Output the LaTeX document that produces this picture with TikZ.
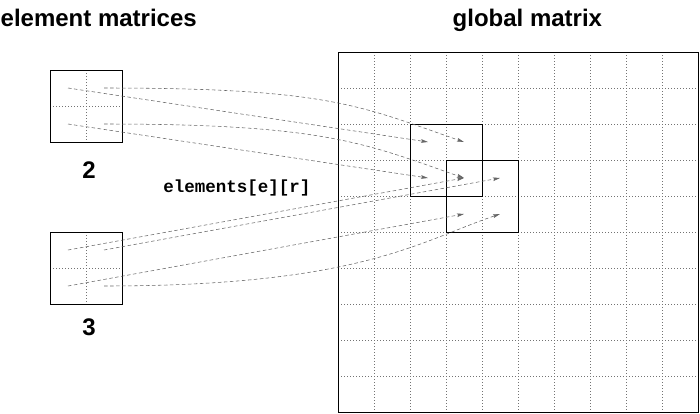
\documentclass[tikz,border=0pt]{standalone}
\usepackage{fontspec}
\setmainfont{Liberation Sans}
\setmonofont{Liberation Mono}
\usetikzlibrary{arrows.meta}
\tikzset{
  title/.style={font=\fontsize{24}{24}\selectfont\bfseries, inner sep=0pt, anchor=base west},
  numlabel/.style={font=\fontsize{24}{24}\selectfont\bfseries, inner sep=0pt, anchor=base},
  codelabel/.style={font=\fontsize{17.5}{17.5}\selectfont\ttfamily\bfseries, inner sep=0pt, anchor=base},
  gridline/.style={draw=black!55, line width=0.5pt, dash pattern=on 0.8pt off 2.2pt},
  matbox/.style={draw=black, line width=0.9pt, minimum size=72pt, inner sep=0pt, fill=none},
  bigbox/.style={draw=black, line width=0.9pt, minimum size=360pt, inner sep=0pt},
  link/.style={draw=black!60, line width=0.55pt, dash pattern=on 3.5pt off 2.5pt,
    -{Stealth[length=7pt,width=3.6pt,inset=1.2pt]}},
}
\begin{document}
\begin{tikzpicture}[x=1pt,y=-1pt]
\useasboundingbox (0,0) rectangle (700,413);
\fill[white] (0,0) rectangle (700,413);

% titles
\node[title] (t1) at (0.5,26) {element matrices};
\node[title] (t2) at (452.5,26) {global matrix};

% global matrix grid
\foreach \i in {1,...,9} {
  \draw[gridline] ({338+36*\i},52) -- ({338+36*\i},412);
  \draw[gridline] (338,{52+36*\i}) -- (698,{52+36*\i});
}
\node[bigbox] (G) at (518,232) {};

% element matrix grids
\draw[gridline] (86,70) -- (86,142);
\draw[gridline] (50,106) -- (122,106);
\draw[gridline] (86,232) -- (86,304);
\draw[gridline] (50,268) -- (122,268);
\node[matbox] (e2) at (86,106) {};
\node[matbox] (e3) at (86,268) {};

% sub-blocks in global matrix
\node[matbox] (g1) at (446,160) {};
\node[matbox] (g2) at (482,196) {};

% labels
\node[numlabel] (l2) at (89,178.5) {2};
\node[numlabel] (l3) at (89,335) {3};
\node[codelabel] (lc) at (237,192) {elements[e][r]};

% cell centres
\coordinate (e2a) at (68,88);
\coordinate (e2b) at (104,88);
\coordinate (e2c) at (68,124);
\coordinate (e2d) at (104,124);
\coordinate (e3a) at (68,250);
\coordinate (e3b) at (104,250);
\coordinate (e3c) at (68,286);
\coordinate (e3d) at (104,286);
\coordinate (g1a) at (428,142);
\coordinate (g1b) at (464,142);
\coordinate (g1c) at (428,178);
\coordinate (g1d) at (464,178);
\coordinate (g2a) at (464,178);
\coordinate (g2b) at (500,178);
\coordinate (g2c) at (464,214);
\coordinate (g2d) at (500,214);

% connectors element 2
\draw[link] (e2a) -- (g1a);
\draw[link] (e2b) .. controls +(226,0) and +(-104,-36) .. (g1b);
\draw[link] (e2c) -- (g1c);
\draw[link] (e2d) .. controls +(220,0) and +(-100,-35) .. (g1d);

% connectors element 3
\draw[link] (e3a) -- (g2a);
\draw[link] (e3b) -- (g2b);
\draw[link] (e3c) -- (g2c);
\draw[link] (e3d) .. controls +(256,0) and +(-80,27) .. (g2d);
\end{tikzpicture}
\end{document}
